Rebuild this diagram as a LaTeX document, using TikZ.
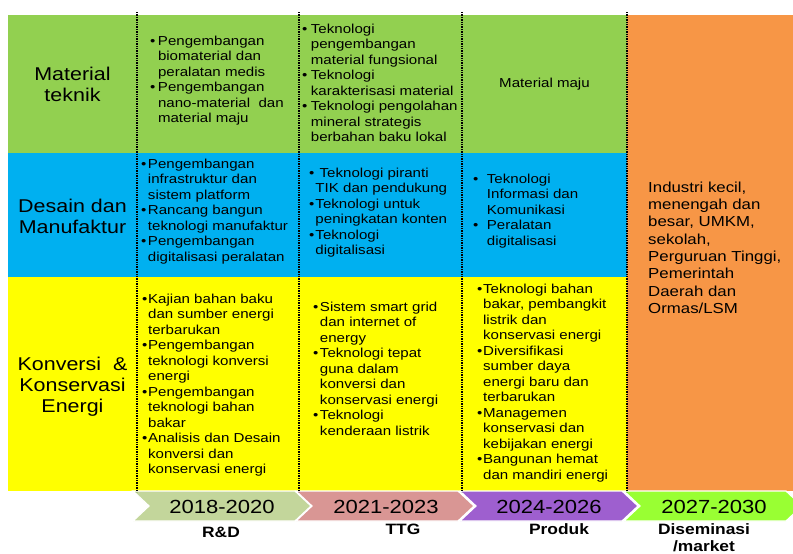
\documentclass[tikz,border=0pt]{standalone}
\usepackage{fontspec}
\setmainfont{Liberation Sans}
\definecolor{rowgreen}{HTML}{92D050}
\definecolor{rowblue}{HTML}{00B0F0}
\definecolor{rowyellow}{HTML}{FFFF00}
\definecolor{colorange}{HTML}{F79646}
\definecolor{chevolive}{HTML}{C3D69B}
\definecolor{chevpink}{HTML}{D99694}
\definecolor{chevpurple}{HTML}{9E5FCF}
\definecolor{chevlime}{HTML}{99FF33}
\newlength\bw
% bullet of fixed width, and the matching indent for continuation lines
\newcommand\bl{\makebox[\bw][l]{\textbullet}}
\newcommand\cn{\hspace*{\bw}}
\begin{document}
\begin{tikzpicture}[x=1pt,y=-1pt,
  body/.style={inner sep=0pt, outer sep=0pt, xscale=1.16, align=left,
    anchor=north west, font=\fontsize{13}{15.5}\selectfont,
    execute at begin node={\global\bw=#1pt}},
  body/.default=6,
  rowlabel/.style={inner sep=0pt, xscale=1.16, align=center,
    font=\fontsize{18.5}{21}\selectfont},
  divider/.style={line width=1.6pt, dash pattern=on 1.4pt off 1pt},
  chevron/.style={draw=white, line width=1.2pt},
  yearlabel/.style={inner sep=0pt, xscale=1.16, anchor=base,
    font=\fontsize{19}{22}\selectfont},
  phaselabel/.style={inner sep=0pt, xscale=1.16, align=center,
    font=\fontsize{15}{17.5}\selectfont\bfseries},
]
\useasboundingbox (0,0) rectangle (793,554);

% coloured bands
\fill[rowgreen]  (8,15)  rectangle (627,153);
\fill[rowblue]   (8,153) rectangle (627,277);
\fill[rowyellow] (8,277) rectangle (627,491);
\fill[colorange] (627,15) rectangle (793,491);

% phase chevrons
\newcommand\chev[2]{%
  \filldraw[chevron, fill=#2] (#1,491) -- ++(162,0) -- ++(16,15) -- ++(-16,15)
    -- ++(-162,0) -- ++(16,-15) -- cycle;}
\chev{133}{chevolive}
\chev{296}{chevpink}
\chev{460}{chevpurple}
\chev{624}{chevlime}

% dotted column dividers
\foreach \x in {137,299,462,627}
  \draw[divider] (\x,12) -- (\x,492);

% row headings
\node[rowlabel] (matTeknik) at (72.5,84) {Material\\teknik};
\node[rowlabel] (desain) at (72.5,216.5) {Desain dan\\Manufaktur};
\node[rowlabel] (konversi) at (72.5,387) {Konversi\ \ \&\\Konservasi\\Energi};

% Material teknik
\node[body=6.9] (matRD) at (150,35.7) {\bl Pengembangan\\ \cn biomaterial dan\\
  \cn peralatan medis\\ \bl Pengembangan\\ \cn nano-material\ \ dan\\ \cn material maju};
\node[body=7.7] (matTTG) at (302,23.7) {\bl Teknologi\\ \cn pengembangan\\
  \cn material fungsional\\ \bl Teknologi\\ \cn karakterisasi material\\
  \bl Teknologi pengolahan\\ \cn mineral strategis\\ \cn berbahan baku lokal};
\node[inner sep=0pt, xscale=1.16, font=\fontsize{13}{15.5}\selectfont] (matProd)
  at (544.5,84) {Material maju};

% Desain dan Manufaktur
\node[body=6] (desRD) at (141,158.7) {\bl Pengembangan\\ \cn infrastruktur dan\\
  \cn sistem platform\\ \bl Rancang bangun\\ \cn teknologi manufaktur\\
  \bl Pengembangan\\ \cn digitalisasi peralatan};
\node[body=5.6] (desTTG) at (309,167.7) {\bl\ Teknologi piranti\\ \cn TIK dan pendukung\\
  \bl Teknologi untuk\\ \cn peningkatan konten\\ \bl Teknologi\\ \cn digitalisasi};
\node[body=12] (desProd) at (473,173.7) {\bl Teknologi\\ \cn Informasi dan\\
  \cn Komunikasi\\ \bl Peralatan\\ \cn digitalisasi};

% Konversi & Konservasi Energi
\node[body=5.3] (ekRD) at (142,293.7) {\bl Kajian bahan baku\\ \cn dan sumber energi\\
  \cn terbarukan\\ \bl Pengembangan\\ \cn teknologi konversi\\ \cn energi\\
  \bl Pengembangan\\ \cn teknologi bahan\\ \cn bakar\\ \bl Analisis dan Desain\\
  \cn konversi dan\\ \cn konservasi energi};
\node[body=6] (ekTTG) at (313,301.7) {\bl Sistem smart grid\\ \cn dan internet of\\
  \cn energy\\ \bl Teknologi tepat\\ \cn guna dalam\\ \cn konversi dan\\
  \cn konservasi energi\\ \bl Teknologi\\ \cn kenderaan listrik};
\node[body=5.3] (ekProd) at (477,283.7) {\bl Teknologi bahan\\ \cn bakar, pembangkit\\
  \cn listrik dan\\ \cn konservasi energi\\ \bl Diversifikasi\\ \cn sumber daya\\
  \cn energi baru dan\\ \cn terbarukan\\ \bl Managemen\\ \cn konservasi dan\\
  \cn kebijakan energi\\ \bl Bangunan hemat\\ \cn dan mandiri energi};

% dissemination targets
\node[inner sep=0pt, xscale=1.16, align=left, anchor=north west,
  font=\fontsize{14.5}{17.3}\selectfont] (target) at (648,181.6)
  {Industri kecil,\\ menengah dan\\ besar, UMKM,\\ sekolah,\\
   Perguruan Tinggi,\\ Pemerintah\\ Daerah dan\\ Ormas/LSM};

% periods and phases
\node[yearlabel] (y1) at (222,513) {2018-2020};
\node[yearlabel] (y2) at (386,513) {2021-2023};
\node[yearlabel] (y3) at (549,513) {2024-2026};
\node[yearlabel] (y4) at (714,513) {2027-2030};
\node[phaselabel, anchor=base] (p1) at (221,537) {R\&D};
\node[phaselabel, anchor=base] (p2) at (403,534) {TTG};
\node[phaselabel, anchor=base] (p3) at (559,534) {Produk};
\node[phaselabel, anchor=north] (p4) at (704,523) {Diseminasi\\/market};
\end{tikzpicture}
\end{document}
